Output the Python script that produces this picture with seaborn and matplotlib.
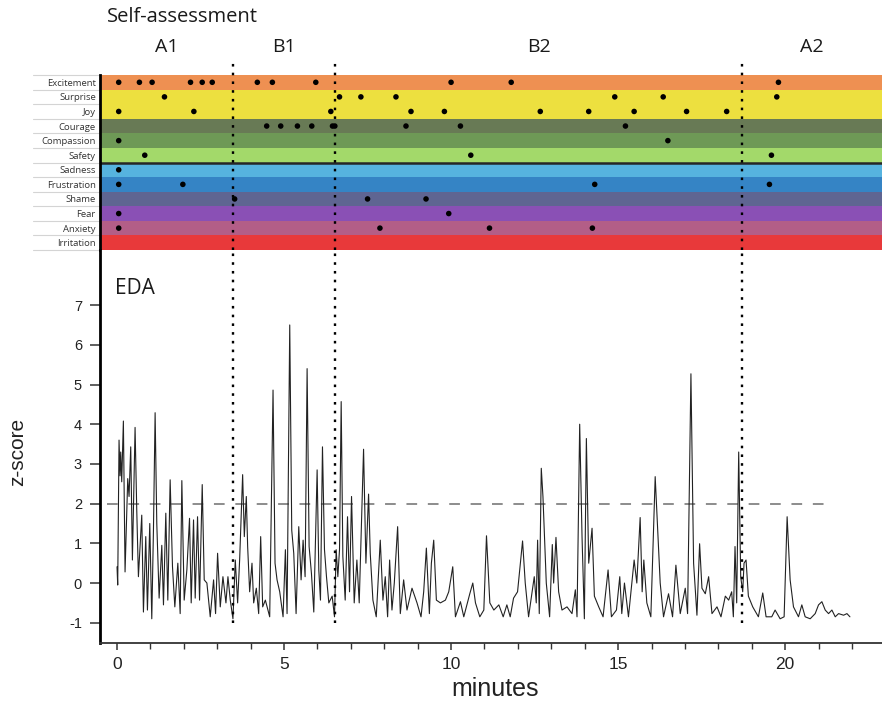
import numpy as np
import pandas as pd
import matplotlib
matplotlib.use("Agg")
import matplotlib.pyplot as plt
import seaborn as sns

# ---------------- data ----------------
emotions = ["Excitement", "Surprise", "Joy", "Courage", "Compassion", "Safety",
            "Sadness", "Frustration", "Shame", "Fear", "Anxiety", "Irritation"]
band_colors = ["#EE9052", "#EDE03F", "#EDE03F", "#687A55", "#6E9956", "#A3D96A",
               "#56B3DF", "#3584C5", "#5F6592", "#8A50B5", "#B35E87", "#E8393A"]

# self-assessment ratings (minutes at which each emotion was reported)
excitement = [0.05, 0.67, 1.05, 2.2, 2.55, 2.85, 4.2, 4.65, 5.95, 10.0, 11.8, 19.8]
surprise = [1.42, 6.66, 7.3, 8.35, 14.9, 16.35, 19.75]
joy = [0.05, 2.3, 6.4, 8.8, 9.8, 12.67, 14.12, 15.48, 17.05, 18.25]
courage = [4.48, 4.9, 5.4, 5.83, 6.45, 6.52, 8.65, 10.28, 15.22]
compassion = [0.05, 16.49]
safety = [0.83, 10.59, 19.59]
sadness = [0.05]
frustration = [0.05, 1.97, 14.3, 19.53]
shame = [3.52, 7.5, 9.25]
fear = [0.05, 9.93]
anxiety = [0.05, 7.87, 11.15, 14.23]
irritation = []

ratings = [excitement, surprise, joy, courage, compassion, safety,
           sadness, frustration, shame, fear, anxiety, irritation]

# session phases
phase_labels = ["A1", "B1", "B2", "A2"]
phase_bounds = [3.47, 6.53, 18.71]

# electrodermal activity (z-score) over time
eda_minutes = [
    0.00, 0.02, 0.06, 0.09, 0.11, 0.14, 0.19, 0.24, 0.32, 0.36, 0.41, 0.46, 0.54, 0.59,
    0.64, 0.69, 0.74, 0.79, 0.86, 0.91, 0.98, 1.04, 1.09, 1.14, 1.19, 1.26, 1.34, 1.39,
    1.46, 1.52, 1.59, 1.66, 1.73, 1.82, 1.89, 1.94, 2.01, 2.09, 2.17, 2.22, 2.29, 2.34,
    2.41, 2.47, 2.55, 2.61, 2.69, 2.79, 2.89, 2.95, 3.01, 3.09, 3.17, 3.26, 3.32, 3.39,
    3.47, 3.54, 3.61, 3.67, 3.76, 3.81, 3.87, 3.91, 3.97, 4.04, 4.09, 4.17, 4.24, 4.30,
    4.36, 4.44, 4.57, 4.67, 4.73, 4.79, 4.87, 4.97, 5.04, 5.09, 5.17, 5.23, 5.29, 5.36,
    5.44, 5.51, 5.57, 5.63, 5.69, 5.75, 5.82, 5.89, 5.99, 6.04, 6.09, 6.15, 6.21, 6.27,
    6.34, 6.44, 6.51, 6.56, 6.61, 6.66, 6.71, 6.76, 6.83, 6.90, 6.96, 7.02, 7.10, 7.18,
    7.25, 7.38, 7.45, 7.53, 7.58, 7.66, 7.76, 7.88, 7.96, 8.03, 8.10, 8.16, 8.23, 8.30,
    8.40, 8.48, 8.58, 8.68, 8.83, 8.98, 9.10, 9.18, 9.26, 9.35, 9.41, 9.48, 9.56, 9.68,
    9.83, 9.93, 10.05, 10.13, 10.28, 10.38, 10.56, 10.65, 10.73, 10.86, 10.98, 11.06,
    11.16, 11.28, 11.43, 11.56, 11.67, 11.77, 11.87, 11.99, 12.14, 12.22, 12.32, 12.49,
    12.55, 12.59, 12.64, 12.70, 12.75, 12.85, 12.95, 13.03, 13.07, 13.14, 13.22, 13.32,
    13.47, 13.62, 13.72, 13.77, 13.85, 13.92, 13.99, 14.05, 14.12, 14.22, 14.29, 14.42,
    14.55, 14.70, 14.80, 14.95, 15.05, 15.11, 15.19, 15.31, 15.48, 15.56, 15.66, 15.72,
    15.77, 15.86, 15.98, 16.11, 16.18, 16.26, 16.36, 16.51, 16.63, 16.73, 16.86, 17.01,
    17.08, 17.18, 17.26, 17.36, 17.44, 17.51, 17.61, 17.71, 17.81, 17.96, 18.08, 18.21,
    18.31, 18.40, 18.45, 18.50, 18.55, 18.61, 18.67, 18.73, 18.77, 18.83, 18.90, 19.03,
    19.20, 19.33, 19.43, 19.60, 19.70, 19.85, 19.97, 20.06, 20.15, 20.25, 20.40, 20.50,
    20.60, 20.75, 20.90, 21.00, 21.10, 21.20, 21.30, 21.40, 21.50, 21.60, 21.75, 21.85,
    21.94,
]
eda_z = [
    0.41, -0.05, 3.60, 2.70, 3.30, 2.55, 4.08, 0.28, 2.63, 2.18, 3.43, 0.58, 3.92, 1.84,
    0.16, 0.95, 1.71, -0.73, 1.17, -0.68, 1.50, -0.90, 1.33, 4.29, 1.50, -0.38, 0.95, -0.55,
    1.76, -0.43, 2.60, 0.41, -0.60, 0.50, -0.77, 2.58, -0.43, 0.33, 1.63, -0.50, 1.59, -0.38,
    1.67, -0.43, 2.48, 0.08, 0.00, -0.85, 0.08, -0.77, 0.75, -0.60, 0.16, -0.50, 0.16, -0.43,
    -0.90, 0.58, -0.50, 0.58, 2.73, 1.17, 2.18, 0.92, -0.22, 0.50, -0.50, -0.13, -0.77, 1.17,
    -0.60, -0.43, -0.85, 4.86, 0.50, 0.08, -0.22, -0.85, 0.84, -0.77, 6.50, 1.33, 0.75, -0.77,
    1.42, 0.08, 1.08, 0.16, 5.40, 0.92, 0.24, -0.73, 2.85, 0.33, -0.43, 3.43, 0.84, 0.16,
    -0.50, -0.33, -0.85, 0.84, 0.16, 0.84, 4.57, 0.67, -0.43, 1.67, -0.22, 2.18, -0.50, 0.58,
    -0.50, 3.37, 0.50, 2.24, 0.75, -0.43, -0.85, 1.08, -0.43, 0.16, -0.85, 0.58, -0.68, 0.00,
    1.42, -0.77, 0.08, -0.68, -0.13, -0.50, -0.85, -0.22, 0.88, -0.77, 0.50, 1.08, -0.43, -0.50,
    -0.43, -0.22, 0.41, -0.85, -0.47, -0.85, -0.27, 0.00, -0.50, -0.85, -0.68, 1.19,
    -0.50, -0.68, -0.55, -0.85, -0.55, -0.85, -0.38, -0.22, 1.06, 0.00, -0.85, 0.16,
    -0.50, 1.08, -0.77, 2.89, 2.18, 0.00, -0.85, 0.97, 0.00, 1.15, -0.22, -0.68,
    -0.60, -0.77, -0.17, -0.85, 4.00, 1.17, -0.90, 3.64, 0.50, 1.38, -0.33, -0.60,
    -0.85, 0.33, -0.85, -0.68, 0.16, -0.77, 0.00, -0.85, 0.58, 0.00, 1.65, -0.22,
    0.58, -0.50, -0.85, 2.68, 1.42, 0.00, -0.85, -0.27, -0.85, 0.45, -0.77, -0.13,
    -0.77, 5.27, 0.50, -0.81, 0.99, -0.13, -0.27, 0.16, -0.77, -0.60, -0.85, -0.33,
    -0.43, -0.22, -0.85, 0.92, -0.50, 3.30, 0.16, -0.22, 0.50, 0.58, -0.33, -0.60,
    -0.85, -0.25, -0.85, -0.85, -0.68, -0.90, -0.85, 1.67, 0.08, -0.60, -0.85, -0.55,
    -0.85, -0.90, -0.77, -0.55, -0.47, -0.68, -0.77, -0.68, -0.85, -0.77, -0.81, -0.77,
    -0.85,
]
threshold = 2.0

# ---------------- style ----------------
sns.set_style("ticks")
plt.rcParams["font.family"] = ["Liberation Sans", "DejaVu Sans"]
plt.rcParams["axes.unicode_minus"] = False
label_font = ["Open Sans", "DejaVu Sans"]

W, H = 882, 701
fig = plt.figure(figsize=(W / 100, H / 100), dpi=100)

x_range = (-0.51, 22.9)
ax_b = fig.add_axes([100 / W, (H - 250) / H, 782 / W, 175 / H])
ax_e = fig.add_axes([100 / W, (H - 643) / H, 782 / W, 393 / H])

# ---------------- self-assessment bands ----------------
for i, col in enumerate(band_colors):
    ax_b.axhspan(i - 0.5, i + 0.5, color=col, lw=0, zorder=0)

rating_df = pd.DataFrame(
    [(t, emotions.index(name)) for name, times in zip(emotions, ratings) for t in times],
    columns=["minute", "row"],
)
sns.scatterplot(data=rating_df, x="minute", y="row", color="black", s=16,
                edgecolor="none", ax=ax_b, zorder=4, legend=False)

ax_b.axhline(5.5, color="#262626", lw=1.8, zorder=3)
ax_b.set_xlim(*x_range)
ax_b.set_ylim(11.5, -0.5)
ax_b.set_yticks(range(len(emotions)))
ax_b.set_yticklabels(emotions, fontsize=6.8, family=label_font, color="#333333")
ax_b.tick_params(axis="y", length=0, pad=3)
ax_b.set_xticks([])
ax_b.set_xlabel("")
ax_b.set_ylabel("")
for side in ["top", "right", "bottom"]:
    ax_b.spines[side].set_visible(False)
ax_b.spines["left"].set_linewidth(2.0)
ax_b.spines["left"].set_color("black")
ax_b.spines["left"].set_zorder(5)

# light rules between the emotion names
ytrans = ax_b.get_yaxis_transform()
for b in np.arange(-0.5, len(emotions)):
    ax_b.plot([-0.086, 0], [b, b], transform=ytrans, color="#d4d4d4", lw=0.8,
              clip_on=False, zorder=1)

# phase boundaries and names
dotted = dict(color="black", lw=1.7, linestyle=(0, (1.1, 2.6)))
for t in phase_bounds:
    ax_b.axvline(t, ymin=0, ymax=(250 - 60) / 175, clip_on=False, zorder=6, **dotted)
edges = [x_range[0]] + phase_bounds + [x_range[1]]
xtrans = ax_b.get_xaxis_transform()
for lab, lo, hi in zip(phase_labels, edges[:-1], edges[1:]):
    ax_b.text((lo + hi) / 2, (250 - 47) / 175, lab, transform=xtrans, ha="center",
              va="center", fontsize=14, family=label_font, color="#1a1a1a")

fig.text(107 / W, 1 - 17 / H, "Self-assessment", ha="left", va="center",
         fontsize=14.5, family=label_font, color="#1a1a1a")

# ---------------- EDA trace ----------------
eda_df = pd.DataFrame({"minutes": eda_minutes, "z": eda_z})
sns.lineplot(data=eda_df, x="minutes", y="z", estimator=None, sort=False,
             color="#222222", lw=0.8, ax=ax_e, zorder=3)

ax_e.hlines(threshold, -0.3, 21.4, colors="#6e6e6e", lw=1.1,
            linestyles=(0, (7, 7)), zorder=2)

y_lo, y_hi = -1.51, (583 - 250) / 39.7
for t in phase_bounds:
    ax_e.axvline(t, ymin=(-1 - y_lo) / (y_hi - y_lo), ymax=1, zorder=6, **dotted)

ax_e.set_xlim(*x_range)
ax_e.set_ylim(y_lo, y_hi)
ax_e.set_yticks(range(-1, 8))
ax_e.set_xticks([0, 5, 10, 15, 20])
ax_e.set_xticks(range(0, 23), minor=True)
ax_e.tick_params(axis="y", direction="out", length=7, width=1.1, pad=6,
                 labelsize=10.5, color="#333333", labelcolor="#222222")
ax_e.tick_params(axis="x", which="major", direction="out", length=5, width=1.1, pad=5,
                 labelsize=12.5, color="#333333", labelcolor="#222222")
ax_e.tick_params(axis="x", which="minor", direction="out", length=4, width=1.0,
                 color="#333333")
for side in ["top", "right"]:
    ax_e.spines[side].set_visible(False)
ax_e.spines["left"].set_linewidth(2.0)
ax_e.spines["left"].set_color("black")
ax_e.spines["bottom"].set_linewidth(1.3)
ax_e.spines["bottom"].set_color("#333333")
ax_e.set_xlabel("")
ax_e.set_ylabel("")

ax_e.text(115 / W, 1 - 288 / H, "EDA", transform=fig.transFigure, ha="left",
          va="center", fontsize=15, family=label_font, color="#1a1a1a")
fig.text(18 / W, 1 - 452 / H, "z-score", rotation=90, ha="center", va="center",
         fontsize=15, color="#222222")
fig.text(495 / W, 1 - 689 / H, "minutes", ha="center", va="center",
         fontsize=18, color="#222222")

fig.savefig("out.png", dpi=100)
